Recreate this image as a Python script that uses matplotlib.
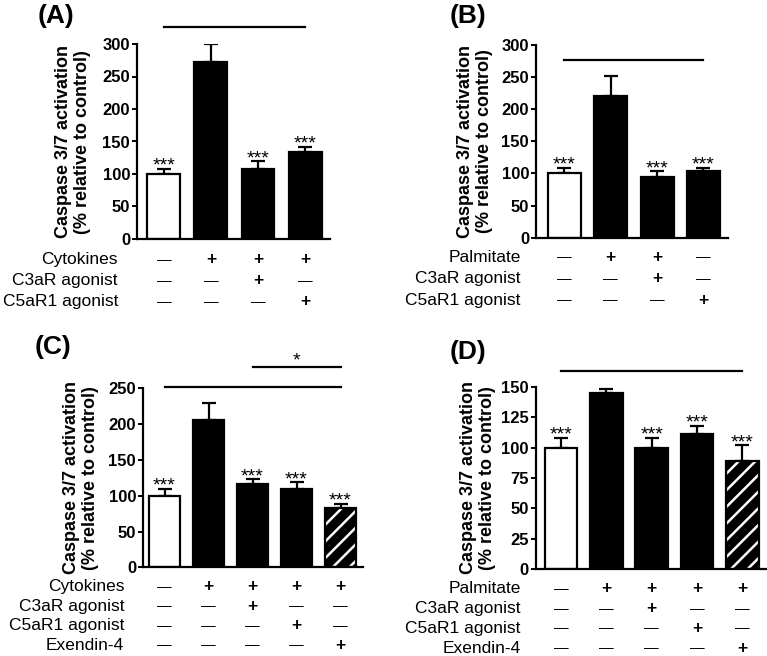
import matplotlib
matplotlib.use('Agg')
import matplotlib.pyplot as plt
import matplotlib.transforms as mtransforms

plt.rcParams['font.family'] = ['Liberation Sans', 'DejaVu Sans']
plt.rcParams['hatch.linewidth'] = 1.8

W, H = 767, 656

# --- data ---
a_means = [100, 272, 108, 134]
a_errs = [8, 28, 12, 8]
a_stars = ['***', '', '***', '***']
a_rows = ['Cytokines', 'C3aR agonist', 'C5aR1 agonist']
a_signs = [['-', '+', '+', '+'], ['-', '-', '+', '-'], ['-', '-', '-', '+']]

b_means = [100, 220, 95, 104]
b_errs = [9, 32, 9, 5]
b_stars = ['***', '', '***', '***']
b_rows = ['Palmitate', 'C3aR agonist', 'C5aR1 agonist']
b_signs = [['-', '+', '+', '-'], ['-', '-', '+', '-'], ['-', '-', '-', '+']]

c_means = [100, 206, 116, 110, 83]
c_errs = [10, 23, 7, 9, 6]
c_stars = ['***', '', '***', '***', '***']
c_rows = ['Cytokines', 'C3aR agonist', 'C5aR1 agonist', 'Exendin-4']
c_signs = [['-', '+', '+', '+', '+'], ['-', '-', '+', '-', '-'],
           ['-', '-', '-', '+', '-'], ['-', '-', '-', '-', '+']]

d_means = [100, 145, 100, 111, 89]
d_errs = [8, 3, 8, 7, 13]
d_stars = ['***', '', '***', '***', '***']
d_rows = ['Palmitate', 'C3aR agonist', 'C5aR1 agonist', 'Exendin-4']
d_signs = [['-', '+', '+', '+', '+'], ['-', '-', '+', '-', '-'],
           ['-', '-', '-', '+', '-'], ['-', '-', '-', '-', '+']]

# significance brackets: (from bar, to bar, height, label)
a_sig = [(0, 3, 326, '')]
b_sig = [(0, 3, 277, '')]
c_sig = [(0, 4, 252, ''), (2, 4, 280, '*')]
d_sig = [(0, 4, 163, '')]

a_ticks = [0, 50, 100, 150, 200, 250, 300]
b_ticks = [0, 50, 100, 150, 200, 250, 300]
c_ticks = [0, 50, 100, 150, 200, 250]
d_ticks = [0, 25, 50, 75, 100, 125, 150]

fig = plt.figure(figsize=(W / 100, H / 100), dpi=100)


def px_axes(left, top, right, bottom):
    return fig.add_axes([left / W, 1 - bottom / H, (right - left) / W, (bottom - top) / H])


def panel(rect, means, errs, stars, rows, signs, sig, ticks, xlim, width,
          hatched, letter, letter_xy, ylab_xy, row_top, row_gap, label_dx):
    ax = px_axes(*rect)
    x = list(range(len(means)))
    for i in x:
        if i == 0:
            ax.bar(i, means[i], width, color='white', edgecolor='black', linewidth=1.6, zorder=2)
        elif i == hatched:
            ax.bar(i, means[i], width, color='black', edgecolor='white', hatch='//', linewidth=0, zorder=2)
            ax.bar(i, means[i], width, fill=False, edgecolor='black', linewidth=1.6, zorder=3)
        else:
            ax.bar(i, means[i], width, color='black', edgecolor='black', linewidth=1.6, zorder=2)
    ax.errorbar(x, means, yerr=[[0] * len(errs), errs], fmt='none', ecolor='black',
                elinewidth=1.6, capsize=5, capthick=1.6, zorder=1)
    for i in x:
        if stars[i]:
            ax.annotate(stars[i], (i, means[i] + errs[i]), xytext=(0, -1.5),
                        textcoords='offset points', ha='center', va='baseline', fontsize=14)
    for x0, x1, yv, lab in sig:
        ax.plot([x0, x1], [yv, yv], color='black', linewidth=1.6, clip_on=False)
        if lab:
            ax.annotate(lab, ((x0 + x1) / 2, yv), xytext=(0, 1), textcoords='offset points',
                        ha='center', va='baseline', fontsize=14, annotation_clip=False)

    ax.set_ylim(ticks[0], ticks[-1])
    ax.set_xlim(*xlim)
    ax.set_yticks(ticks)
    ax.set_xticks([])
    for s in ['top', 'right']:
        ax.spines[s].set_visible(False)
    for s in ['left', 'bottom']:
        ax.spines[s].set_linewidth(1.6)
    ax.tick_params(axis='y', length=3.5, width=1.4, pad=1.5, labelsize=12)
    for t in ax.get_yticklabels():
        t.set_fontweight('bold')

    # treatment table under the bars
    for r, (name, row) in enumerate(zip(rows, signs)):
        dy = -(row_top + r * row_gap) / 100
        tr = ax.get_xaxis_transform() + mtransforms.ScaledTranslation(0, dy, fig.dpi_scale_trans)
        for i, sgn in enumerate(row):
            txt = '+' if sgn == '+' else '\u2014'
            ax.text(i, 0, txt, transform=tr, ha='center', va='center',
                    fontsize=12.5 if sgn == '+' else 10.5,
                    fontweight='bold' if sgn == '+' else 'normal')
        trl = ax.transAxes + mtransforms.ScaledTranslation(label_dx / 100, dy, fig.dpi_scale_trans)
        ax.text(0, 0, name, transform=trl, ha='right', va='center', fontsize=12.5)

    fig.text(ylab_xy[0] / W, 1 - ylab_xy[1] / H,
             'Caspase 3/7 activation\n(% relative to control)', rotation=90,
             ha='center', va='center', fontsize=13, fontweight='bold', linespacing=1.1)
    fig.text(letter_xy[0] / W, 1 - letter_xy[1] / H, letter, ha='center', va='center',
             fontsize=19, fontweight='bold')
    return ax


panel((137, 44, 330, 239), a_means, a_errs, a_stars, a_rows, a_signs, a_sig, a_ticks,
      (-0.57, 3.53), 0.70, None, '(A)', (56, 16), (73, 142), 21, 21, -19)
panel((536, 45, 728, 237.7), b_means, b_errs, b_stars, b_rows, b_signs, b_sig, b_ticks,
      (-0.615, 3.53), 0.71, None, '(B)', (468, 16), (475, 141), 19.5, 21.5, -15.5)
panel((143, 388.3, 363, 567.3), c_means, c_errs, c_stars, c_rows, c_signs, c_sig, c_ticks,
      (-0.49, 4.51), 0.70, 4, '(C)', (53, 347), (81, 478), 19.5, 19.5, -18.7)
panel((535.7, 386.7, 766, 569.3), d_means, d_errs, d_stars, d_rows, d_signs, d_sig, d_ticks,
      (-0.56, 4.52), 0.72, 4, '(D)', (468, 352), (478, 478), 19.5, 19.8, -15)

fig.savefig('out.png', dpi=100)
